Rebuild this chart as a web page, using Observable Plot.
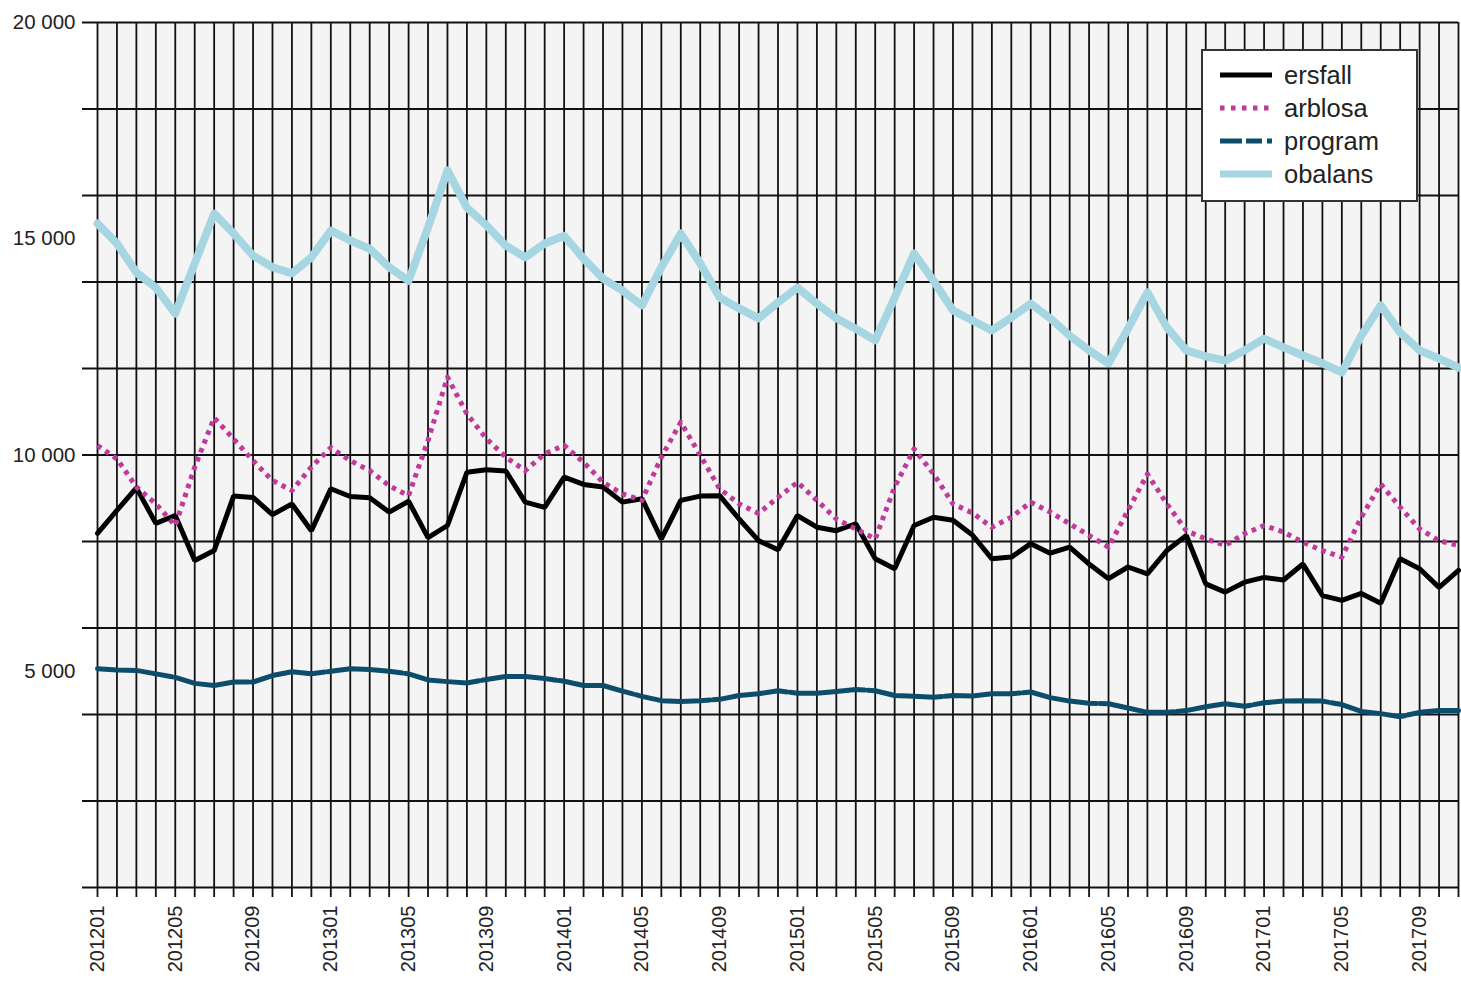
<!DOCTYPE html>
<html><head><meta charset="utf-8">
<script src="https://cdn.jsdelivr.net/npm/d3@7"></script>
<script src="https://cdn.jsdelivr.net/npm/@observablehq/plot@0.6"></script>
<style>
body{margin:0;background:#fff;font-family:"Liberation Sans",Arial,sans-serif}
#wrap{position:relative;width:1461px;height:985px}
#legend{position:absolute;left:1201px;top:49px}
</style></head><body><div id="wrap"></div>
<script>
const months = [
"201201","201202","201203","201204","201205","201206","201207","201208","201209","201210","201211","201212",
"201301","201302","201303","201304","201305","201306","201307","201308","201309","201310","201311","201312",
"201401","201402","201403","201404","201405","201406","201407","201408","201409","201410","201411","201412",
"201501","201502","201503","201504","201505","201506","201507","201508","201509","201510","201511","201512",
"201601","201602","201603","201604","201605","201606","201607","201608","201609","201610","201611","201612",
"201701","201702","201703","201704","201705","201706","201707","201708","201709","201710","201711"];

const ersfall = [8190,8720,9240,8420,8600,7560,7790,9050,9020,8620,
8870,8250,9220,9040,9010,8680,8930,8090,8370,9600,
9660,9630,8910,8790,9490,9320,9260,8910,8990,8060,
8950,9050,9060,8520,8020,7810,8600,8330,8250,8410,
7600,7370,8370,8560,8490,8150,7600,7640,7950,7730,
7870,7480,7140,7410,7250,7790,8140,7020,6830,7060,
7170,7110,7480,6750,6640,6800,6570,7600,7370,6940,7330];

const arblosa = [10220,9910,9260,8870,8370,9720,10860,10370,9870,9410,
9180,9720,10170,9870,9640,9290,9060,10340,11800,10950,
10380,9950,9640,10030,10220,9830,9370,9100,8950,9950,
10760,9990,9220,8870,8650,9020,9370,8950,8520,8290,
8060,9260,10140,9560,8870,8660,8330,8560,8910,8680,
8410,8140,7870,8720,9560,8870,8250,8060,7910,8180,
8370,8220,7980,7790,7640,8560,9330,8790,8290,8020,7910];

const program = [5060,5030,5020,4940,4860,4720,4670,4750,4750,4900,
4990,4940,5000,5060,5040,5000,4940,4800,4760,4730,
4810,4880,4880,4830,4770,4670,4670,4540,4420,4320,
4300,4320,4350,4440,4480,4550,4490,4490,4530,4580,
4550,4440,4420,4400,4440,4430,4480,4480,4520,4390,
4310,4260,4250,4150,4050,4050,4090,4180,4250,4190,
4270,4310,4320,4310,4230,4070,4020,3950,4050,4090,4090];

const obalans = [15350,14890,14220,13870,13270,14430,15580,15120,14610,14340,
14200,14570,15190,14960,14770,14340,14030,15260,16580,15720,
15310,14840,14570,14890,15070,14540,14080,13800,13460,14340,
15120,14430,13640,13390,13160,13530,13870,13500,13160,12920,
12650,13640,14660,14030,13340,13110,12880,13180,13500,13160,
12760,12420,12120,12920,13760,12950,12420,12280,12180,12420,
12690,12490,12300,12120,11910,12760,13460,12830,12420,12230,12020];

const seriesNames = ["ersfall","arblosa","program","obalans"];
const seriesColors = ["#000000","#c0399b","#0c4d6c","#a7d6e3"];
const yLabelTicks = [5000,10000,15000,20000];
const yGrid = [0,2000,4000,6000,8000,10000,12000,14000,16000,18000,20000];
const xLabelTicks = months.filter((d,i)=>i%4===0);

const data = months.map((m,i)=>({m, ersfall:ersfall[i], arblosa:arblosa[i], program:program[i], obalans:obalans[i]}));
const fmt = d => d3.format(",")(d).replace(/,/g," ");

const chart = Plot.plot({
  width:1461, height:985,
  marginLeft:97, marginRight:3, marginTop:22, marginBottom:98,
  style:{fontFamily:"Liberation Sans, Arial, sans-serif", fontSize:"20px", color:"#222", background:"transparent", overflow:"visible"},
  x:{type:"point", domain:months, padding:0},
  y:{domain:[0,20000]},
  marks:[
    Plot.frame({fill:"#f4f4f4", stroke:null}),
    Plot.ruleY(yGrid, {stroke:"#111", strokeWidth:1.8, insetLeft:-15}),
    Plot.ruleX(months, {stroke:"#111", strokeWidth:1.8, insetBottom:-10}),
    Plot.line(data, {x:"m", y:"ersfall", stroke:seriesColors[0], strokeWidth:5, strokeLinejoin:"miter"}),
    Plot.line(data, {x:"m", y:"arblosa", stroke:seriesColors[1], strokeWidth:5, strokeDasharray:"4.5,5", strokeLinecap:"butt"}),
    Plot.line(data, {x:"m", y:"program", stroke:seriesColors[2], strokeWidth:5, strokeDasharray:"75,3"}),
    Plot.line(data, {x:"m", y:"obalans", stroke:seriesColors[3], strokeWidth:8}),
    Plot.axisX({ticks:xLabelTicks, tickSize:0, tickRotate:-90, tickPadding:18, fontSize:20, label:null}),
    Plot.axisY({ticks:yLabelTicks, tickSize:0, tickPadding:22, tickFormat:fmt, fontSize:20.5, label:null})
  ]
});
const wrap = document.getElementById("wrap");
wrap.appendChild(chart);

// legend inside the plot area
const lg = d3.select(wrap).append("svg").attr("id","legend").attr("width",218).attr("height",154);
lg.append("rect").attr("x",1).attr("y",1).attr("width",215).attr("height",151).attr("fill","#fff").attr("stroke","#333").attr("stroke-width",2);
const sw = {
  ersfall:{w:5, dash:null},
  arblosa:{w:5, dash:"4.5,6.5"},
  program:{w:5, dash:"22,4,16,5"},
  obalans:{w:7, dash:null}
};
seriesNames.forEach((name,i)=>{
  const cy = 26 + i*33;
  lg.append("line").attr("x1",19).attr("x2",71).attr("y1",cy).attr("y2",cy)
    .attr("stroke",seriesColors[i]).attr("stroke-width",sw[name].w)
    .attr("stroke-dasharray",sw[name].dash);
  lg.append("text").attr("x",83).attr("y",cy).attr("dy","0.35em")
    .attr("font-family","Liberation Sans, Arial, sans-serif").attr("font-size",25.5).attr("fill","#222").text(name);
});
</script></body></html>
